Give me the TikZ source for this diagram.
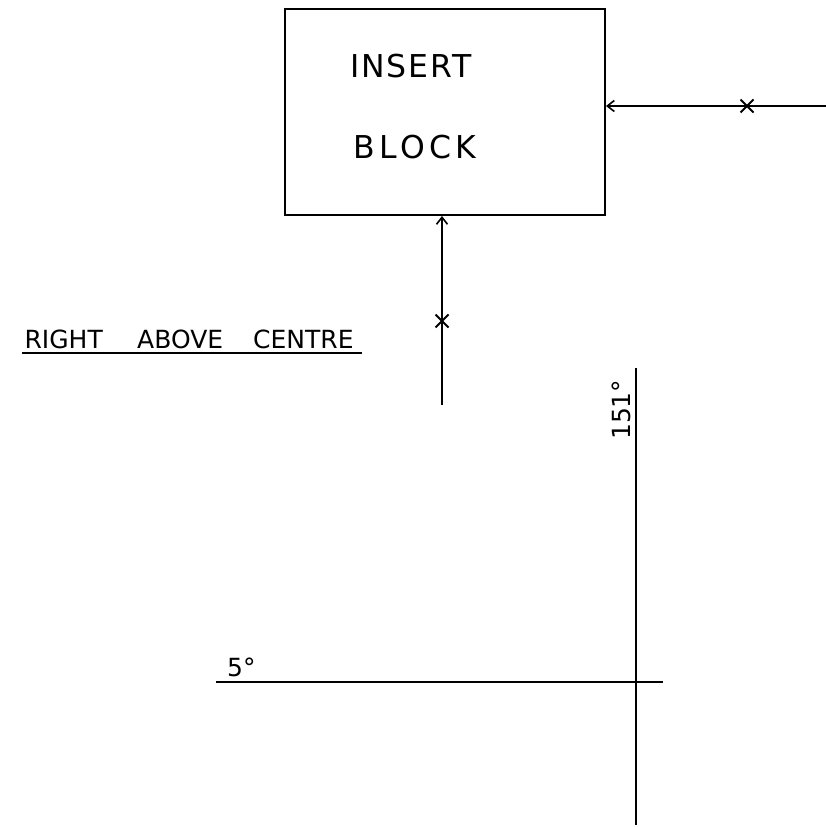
\documentclass[tikz,border=0pt]{standalone}
\usepackage{fontspec}
\setmainfont{DejaVu Sans}
\newfontfamily\wideA{DejaVu Sans}[LetterSpace=6]
\newfontfamily\wideB{DejaVu Sans}[LetterSpace=14]
\usetikzlibrary{arrows.meta,shapes.misc}
\tikzset{
  ln/.style={line width=2pt},
  arr/.style={ln,-{Straight Barb[length=7pt,width=11pt,line width=1.6pt]}},
  crossmark/.style={cross out,draw,line width=2pt,minimum size=11pt,inner sep=0pt},
  bigtxt/.style={font=\fontsize{31.5}{36}\selectfont,inner sep=0pt},
  midtxt/.style={font=\fontsize{25}{30}\selectfont,inner sep=0pt}
}
\begin{document}
\begin{tikzpicture}[x=1pt,y=-1pt]
\useasboundingbox (0,0) rectangle (826,827);
\node[draw,ln,minimum width=320pt,minimum height=206pt,anchor=north west,inner sep=0pt] (box) at (284,8) {};
\node[bigtxt,anchor=base west] (ins) at (350,77) {\wideA INSERT};
\node[bigtxt,anchor=base west] (blk) at (353,158) {\wideB BLOCK};
% right connector
\coordinate (rin) at (826,106);
\draw[arr] (rin) -- (rin -| box.east);
\node[crossmark] (rx) at (747,106) {};
% bottom connector
\coordinate (bin) at (442,405);
\draw[arr] (bin) -- (bin |- box.south);
\node[crossmark] (bx) at (442,321) {};
% label
\node[midtxt,anchor=base east] (racA) at (103,348) {RIGHT};
\node[midtxt,anchor=base west] (racB) at (137,348) {ABOVE};
\node[midtxt,anchor=base west] (racC) at (253,348) {CENTRE};
\coordinate (u1) at (22,353);
\coordinate (u2) at (362,353);
\draw[ln] (u1) -- (u2);
% cross lines
\coordinate (v1) at (636,368);
\coordinate (v2) at (636,825);
\draw[ln] (v1) -- (v2);
\coordinate (h1) at (216,682);
\coordinate (h2) at (663,682);
\draw[ln] (h1) -- (h2);
\node[midtxt,rotate=90,anchor=base west] (a151) at (630,440) {151°};
\node[midtxt,anchor=base west] (a5) at (227,676) {5°};
\end{tikzpicture}
\end{document}
